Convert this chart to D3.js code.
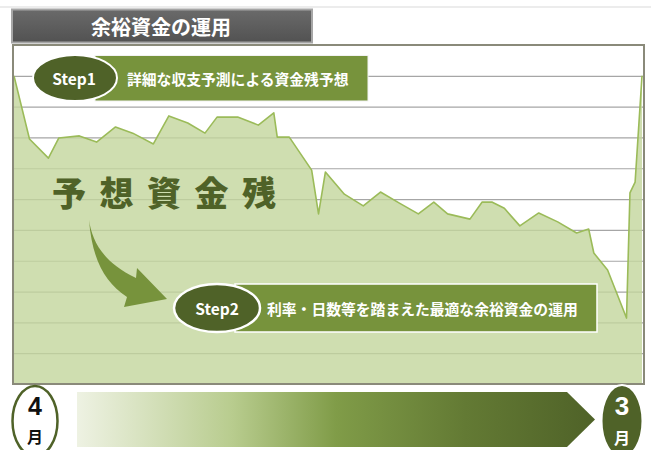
<!DOCTYPE html>
<html><head><meta charset="utf-8">
<script src="https://cdn.jsdelivr.net/npm/d3@7"></script>
<style>
html,body{margin:0;padding:0;background:#fff;}
svg{display:block;font-family:"Noto Sans CJK JP","Noto Sans",sans-serif;}
</style></head>
<body>
<svg id="c" width="651" height="450"></svg>
<script>
// ---- data ----
const title = "余裕資金の運用";
const step1Label = "Step1";
const step1Text = "詳細な収支予測による資金残予想";
const step2Label = "Step2";
const step2Text = "利率・日数等を踏まえた最適な余裕資金の運用";
const bigLabel = "予想資金残";
const startMonth = ["4", "月"];
const endMonth = ["3", "月"];
// day of fiscal year (0 = April 1) and projected balance
const days = [0, 9, 20, 26, 38, 48, 59, 69, 81, 90, 101, 111, 118, 130, 142, 151, 153, 160, 173, 177, 181, 192, 203, 213, 224, 235, 244, 252, 265, 272, 278, 285, 294, 305, 316, 327, 334, 337, 345, 356, 358, 361, 365];
const balance = [100, 79.5, 73.3, 79.8, 80.5, 78.5, 83.4, 81.4, 77.9, 87, 84.7, 81.4, 86.6, 86.6, 84, 88, 80.1, 80.1, 69.4, 55.2, 68.8, 61.6, 57.8, 62.3, 58.7, 55.2, 59, 55.2, 53.5, 59, 59, 57, 51.3, 55.5, 52.6, 49, 50.3, 42.5, 37, 21.4, 62, 65.5, 100];
const yTicks = [10, 20, 30, 40, 50, 60, 70, 80, 90, 100];

const svg = d3.select("#c");
const L = 13, R = 644, T = 45, B = 384;
const x = d3.scaleLinear().domain([0, 365]).range([L + 1, R - 2]);
const y = d3.scaleLinear().domain([0, 110]).range([B, T]);
const pts = days.map((d, i) => ({d, v: balance[i]}));

// defs
const defs = svg.append("defs");
const g1 = defs.append("linearGradient").attr("id", "arrowGrad").attr("x1", "0").attr("x2", "1").attr("y1", "0").attr("y2", "0");
[[0, "#eef2e3"], [0.3, "#b8cc8e"], [0.5, "#809c48"], [0.75, "#637a34"], [1, "#4f6228"]].forEach(s =>
  g1.append("stop").attr("offset", s[0]).attr("stop-color", s[1]));
const g2 = defs.append("linearGradient").attr("id", "titleGrad").attr("x1", "0").attr("x2", "0").attr("y1", "0").attr("y2", "1");
[[0, "#6a6a6a"], [1, "#525252"]].forEach(s => g2.append("stop").attr("offset", s[0]).attr("stop-color", s[1]));
defs.append("clipPath").attr("id", "plotClip").append("rect").attr("x", L).attr("y", T).attr("width", R - L).attr("height", B - T);

// top thin line
svg.append("line").attr("x1", 0).attr("x2", 651).attr("y1", 7).attr("y2", 7).attr("stroke", "#d9d9d9").attr("stroke-width", 1);

// title box
svg.append("rect").attr("x", 12).attr("y", 9.5).attr("width", 300).attr("height", 33)
  .attr("fill", "url(#titleGrad)").attr("stroke", "#a6a6a6").attr("stroke-width", 2);
svg.append("text").attr("x", 161).attr("y", 26).attr("text-anchor", "middle").attr("dominant-baseline", "central")
  .attr("fill", "#fff").attr("font-weight", "bold").attr("font-size", 20).text(title);

// plot background
svg.append("rect").attr("x", L).attr("y", T).attr("width", R - L).attr("height", B - T).attr("fill", "#fff");

// grid via axis
const grid = svg.append("g").attr("transform", `translate(${L},0)`)
  .call(d3.axisLeft(y).tickValues(yTicks).tickSize(-(R - L)).tickFormat(""));
grid.select(".domain").remove();
grid.selectAll(".tick line").attr("stroke", "#a6a6a6").attr("stroke-width", 1.2);

// area + line
const area = d3.area().x(p => x(p.d)).y0(y(0)).y1(p => y(p.v));
const line = d3.line().x(p => x(p.d)).y(p => y(p.v));
const pg = svg.append("g").attr("clip-path", "url(#plotClip)");
pg.append("path").datum(pts).attr("d", area).attr("fill", "#c3d69c").attr("fill-opacity", 0.8);
pg.append("path").datum(pts).attr("d", line).attr("fill", "none").attr("stroke", "#9bbb59").attr("stroke-width", 1.6).attr("stroke-linejoin", "round");

// frame
svg.append("rect").attr("x", L).attr("y", T).attr("width", R - L).attr("height", B - T)
  .attr("fill", "none").attr("stroke", "#8a8a7a").attr("stroke-width", 2);

// Step1 banner
svg.append("rect").attr("x", 95).attr("y", 55.5).attr("width", 273).attr("height", 45.5)
  .attr("fill", "#77933c").attr("stroke", "#f2f2f2").attr("stroke-width", 1);
svg.append("ellipse").attr("cx", 75).attr("cy", 78).attr("rx", 42).attr("ry", 23)
  .attr("fill", "#4f6228").attr("stroke", "#fff").attr("stroke-width", 2);
svg.append("text").attr("x", 74).attr("y", 78).attr("text-anchor", "middle").attr("dominant-baseline", "central")
  .attr("fill", "#fff").attr("font-weight", "bold").attr("font-size", 15.5).text(step1Label);
svg.append("text").attr("x", 127).attr("y", 78).attr("dominant-baseline", "central")
  .attr("fill", "#fff").attr("font-weight", "bold").attr("font-size", 14.8).text(step1Text);

// big label
svg.append("text").attr("x", 52).attr("y", 191).attr("dominant-baseline", "central")
  .attr("fill", "#4f6228").attr("font-weight", 900).attr("font-size", 34).attr("letter-spacing", 13.5).text(bigLabel);

// curved arrow
svg.append("path").attr("fill", "#77933c")
  .attr("d", "M89,220 C92,240 102,262 136,278 L137,268 L167,299 L124,307 L127,297 C104,282 92,258 89,220 Z");

// Step2 banner
svg.append("rect").attr("x", 235).attr("y", 284).attr("width", 362).attr("height", 48)
  .attr("fill", "#77933c").attr("stroke", "#fff").attr("stroke-width", 1.5);
svg.append("ellipse").attr("cx", 217).attr("cy", 308).attr("rx", 43).attr("ry", 24)
  .attr("fill", "#4f6228").attr("stroke", "#fff").attr("stroke-width", 2.5);
svg.append("text").attr("x", 217).attr("y", 308).attr("text-anchor", "middle").attr("dominant-baseline", "central")
  .attr("fill", "#fff").attr("font-weight", "bold").attr("font-size", 15.5).text(step2Label);
svg.append("text").attr("x", 267).attr("y", 308).attr("dominant-baseline", "central")
  .attr("fill", "#fff").attr("font-weight", "bold").attr("font-size", 14.8).text(step2Text);

// bottom gradient arrow
svg.append("path").attr("fill", "url(#arrowGrad)")
  .attr("d", "M77,392 L567,392 L595,419.5 L567,447 L77,447 Z");

// start month circle
svg.append("ellipse").attr("cx", 35).attr("cy", 421).attr("rx", 22.5).attr("ry", 35)
  .attr("fill", "#fff").attr("stroke", "#4f6228").attr("stroke-width", 2.5);
svg.append("text").attr("x", 35).attr("y", 406).attr("text-anchor", "middle").attr("dominant-baseline", "central")
  .attr("fill", "#111").attr("font-weight", "bold").attr("font-size", 25).attr("font-family", "Arial, 'Liberation Sans', sans-serif").text(startMonth[0]);
svg.append("text").attr("x", 35).attr("y", 436).attr("text-anchor", "middle").attr("dominant-baseline", "central")
  .attr("fill", "#111").attr("font-weight", "bold").attr("font-size", 16).text(startMonth[1]);

// end month circle
svg.append("ellipse").attr("cx", 622).attr("cy", 421).attr("rx", 20.5).attr("ry", 36)
  .attr("fill", "#4f6228").attr("stroke", "#fff").attr("stroke-width", 2);
svg.append("text").attr("x", 622).attr("y", 406).attr("text-anchor", "middle").attr("dominant-baseline", "central")
  .attr("fill", "#fff").attr("font-weight", "bold").attr("font-size", 26).attr("font-family", "Arial, 'Liberation Sans', sans-serif").text(endMonth[0]);
svg.append("text").attr("x", 622).attr("y", 437).attr("text-anchor", "middle").attr("dominant-baseline", "central")
  .attr("fill", "#fff").attr("font-weight", "bold").attr("font-size", 16).text(endMonth[1]);
</script>
</body></html>
